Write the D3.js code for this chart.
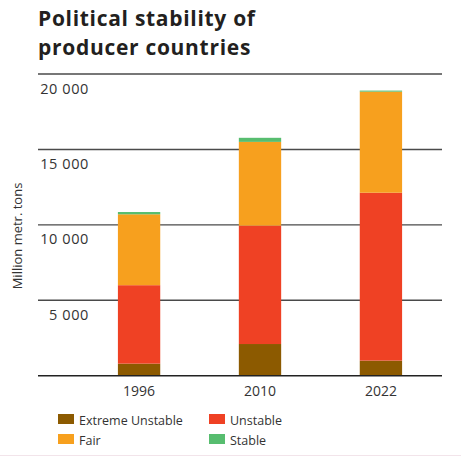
<!DOCTYPE html>
<html>
<head>
<meta charset="utf-8">
<script src="https://cdn.jsdelivr.net/npm/d3@7"></script>
<style>
  body { margin: 0; background: #fff; }
  svg { display: block; font-family: "Open Sans", "Noto Sans", sans-serif; }
</style>
</head>
<body>
<svg id="chart" width="461" height="457"></svg>
<script>
// data
const years = ["1996", "2010", "2022"]
const extremeUnstable = [800, 2100, 1000]
const unstable = [5200, 7850, 11130]
const fair = [4700, 5550, 6700]
const stable = [150, 270, 70]

const seriesNames = ["Extreme Unstable", "Unstable", "Fair", "Stable"]
const seriesColors = ["#8c5a00", "#ef4124", "#f7a01e", "#57bd6f"]
const yTicks = [5000, 10000, 15000, 20000]
const titleLines = ["Political stability of", "producer countries"]

const svg = d3.select("#chart")
const margin = {top: 74, right: 19, bottom: 81, left: 38}
const width = 461
const height = 457

// build rows for the stack
const rows = years.map((y, i) => ({
  year: y,
  "Extreme Unstable": extremeUnstable[i],
  "Unstable": unstable[i],
  "Fair": fair[i],
  "Stable": stable[i]
}))

const stacked = d3.stack().keys(seriesNames)(rows)

const xScale = d3.scaleBand()
  .domain(years)
  .range([78, 442])
  .paddingInner(0.65)
  .paddingOuter(0.33)

const yScale = d3.scaleLinear()
  .domain([0, 20000])
  .range([height - margin.bottom - 0.3, margin.top])

const color = d3.scaleOrdinal().domain(seriesNames).range(seriesColors)

// title, two lines
svg.append("g")
  .attr("font-size", 21)
  .attr("font-weight", "bold")
  .attr("letter-spacing", 0.7)
  .attr("fill", "#231f20")
  .selectAll("text")
  .data(titleLines)
  .enter()
  .append("text")
  .attr("x", margin.left)
  .attr("y", (d, i) => 26 + i * 29)
  .text(d => d)

// grid lines + labels sitting under each line
const grid = svg.append("g")
grid.selectAll("line")
  .data(yTicks)
  .enter()
  .append("line")
  .attr("x1", margin.left)
  .attr("x2", width - margin.right)
  .attr("y1", d => yScale(d))
  .attr("y2", d => yScale(d))
  .attr("stroke", "#4a4a4a")
  .attr("stroke-width", 1.4)

grid.selectAll("text")
  .data(yTicks)
  .enter()
  .append("text")
  .attr("x", 89)
  .attr("y", d => yScale(d) + 19.5)
  .attr("text-anchor", "end")
  .attr("font-size", 14.5)
  .attr("letter-spacing", 0.6)
  .attr("fill", "#333")
  .text(d => d3.format(",")(d).replace(",", " "))

// bars
svg.append("g")
  .selectAll("g")
  .data(stacked)
  .enter()
  .append("g")
  .attr("fill", d => color(d.key))
  .selectAll("rect")
  .data(d => d)
  .enter()
  .append("rect")
  .attr("x", d => xScale(d.data.year))
  .attr("width", xScale.bandwidth())
  .attr("y", d => yScale(d[1]))
  .attr("height", d => yScale(d[0]) - yScale(d[1]))

// baseline
svg.append("line")
  .attr("x1", margin.left)
  .attr("x2", width - margin.right)
  .attr("y1", yScale(0))
  .attr("y2", yScale(0))
  .attr("stroke", "#222")
  .attr("stroke-width", 1.5)

// x axis labels
svg.append("g")
  .attr("transform", `translate(0, ${yScale(0)})`)
  .call(d3.axisBottom(xScale).tickSize(0).tickPadding(10))
  .call(g => g.select(".domain").remove())
  .call(g => g.selectAll("text")
    .attr("font-size", 14)
    .attr("font-family", "'Open Sans', 'Noto Sans', sans-serif")
    .attr("fill", "#333"))

// y axis title
svg.append("text")
  .attr("transform", "translate(22, 236) rotate(-90)")
  .attr("text-anchor", "middle")
  .attr("font-size", 13)
  .attr("fill", "#333")
  .text("Million metr. tons")

// legend
const legendPos = [[58, 414], [209, 414], [58, 434], [209, 434]]
const legend = svg.append("g")
  .selectAll("g")
  .data(seriesNames)
  .enter()
  .append("g")
  .attr("transform", (d, i) => `translate(${legendPos[i][0]}, ${legendPos[i][1]})`)
legend.append("rect")
  .attr("width", 16)
  .attr("height", 10)
  .attr("fill", d => color(d))
legend.append("text")
  .attr("x", 21)
  .attr("y", 10.5)
  .attr("font-size", 12.5)
  .attr("fill", "#333")
  .text(d => d)

// faint bottom rule
svg.append("line")
  .attr("x1", 0)
  .attr("x2", width)
  .attr("y1", 455.5)
  .attr("y2", 455.5)
  .attr("stroke", "#f2e4ea")
  .attr("stroke-width", 1)
</script>
</body>
</html>
